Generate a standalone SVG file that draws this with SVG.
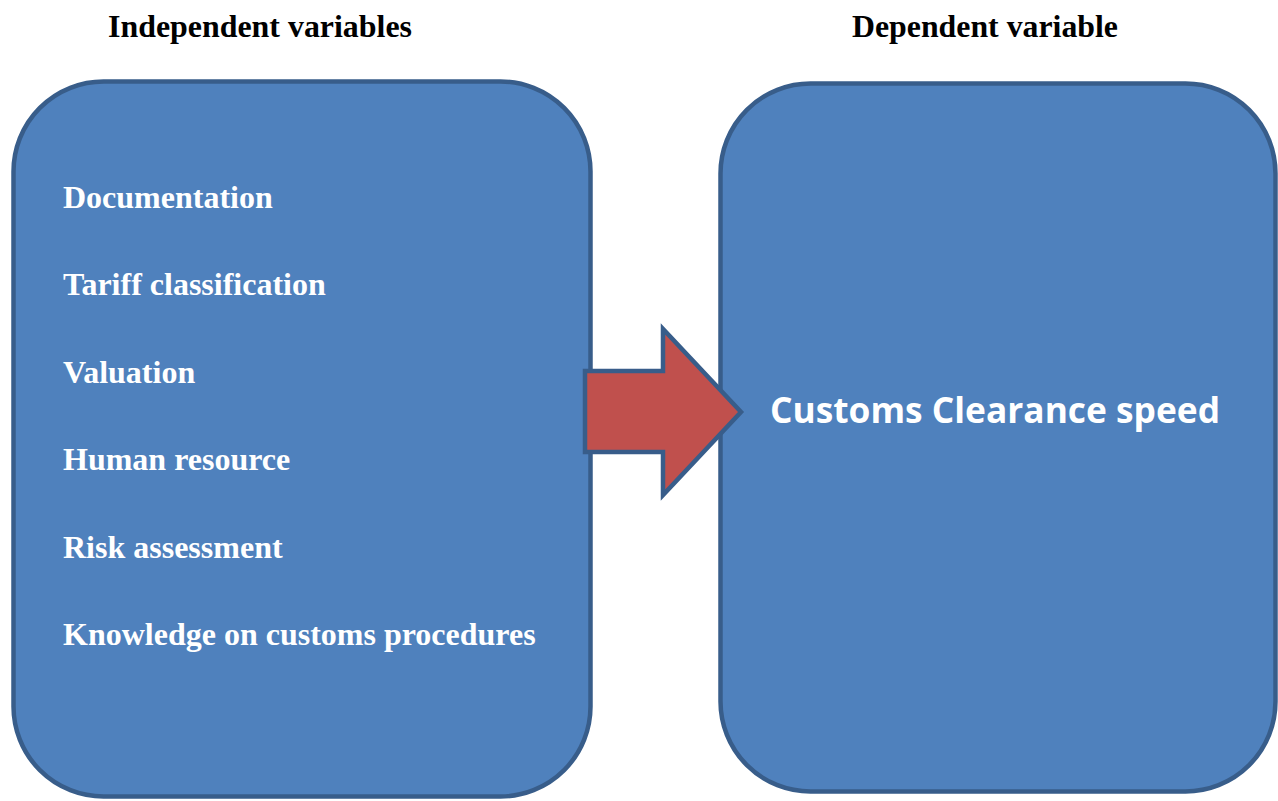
<svg xmlns="http://www.w3.org/2000/svg" width="1278" height="801" viewBox="0 0 1278 801">
<style>
.box{fill:#4F81BD;stroke:#385D8A;stroke-width:4.5}
.title{font-family:"Liberation Serif","Times New Roman",serif;font-weight:bold;font-size:31.5px;fill:#000}
.item{font-family:"Liberation Serif","Times New Roman",serif;font-weight:bold;font-size:32px;fill:#fff}
.dep{font-family:"Open Sans",Lato,sans-serif;font-weight:bold;font-size:35px;fill:#fff}
.arrow{fill:#C0504D;stroke:#385D8A;stroke-width:4.5;stroke-linejoin:miter}
</style>
<rect width="1278" height="801" fill="#fff"/>
<text class="title" x="108" y="37" textLength="304" lengthAdjust="spacingAndGlyphs">Independent variables</text>
<text class="title" x="852" y="37" textLength="266" lengthAdjust="spacingAndGlyphs">Dependent variable</text>
<g id="independent">
<rect class="box" x="13.5" y="81.5" width="577" height="715" rx="90" ry="90"/>
<text class="item" x="63" y="208">Documentation</text>
<text class="item" x="63" y="295.4">Tariff classification</text>
<text class="item" x="63" y="382.8">Valuation</text>
<text class="item" x="63" y="470.2">Human resource</text>
<text class="item" x="63" y="557.6">Risk assessment</text>
<text class="item" x="63" y="645">Knowledge on customs procedures</text>
</g>
<g id="dependent">
<rect class="box" x="720.5" y="83.5" width="555" height="708" rx="90" ry="90"/>
<text class="dep" x="770" y="423" textLength="450" lengthAdjust="spacingAndGlyphs">Customs Clearance speed</text>
</g>
<g id="connectors">
<polygon class="arrow" points="585,371 663,371 663,329 741,412 663,495 663,452 585,452"/>
</g>
</svg>
